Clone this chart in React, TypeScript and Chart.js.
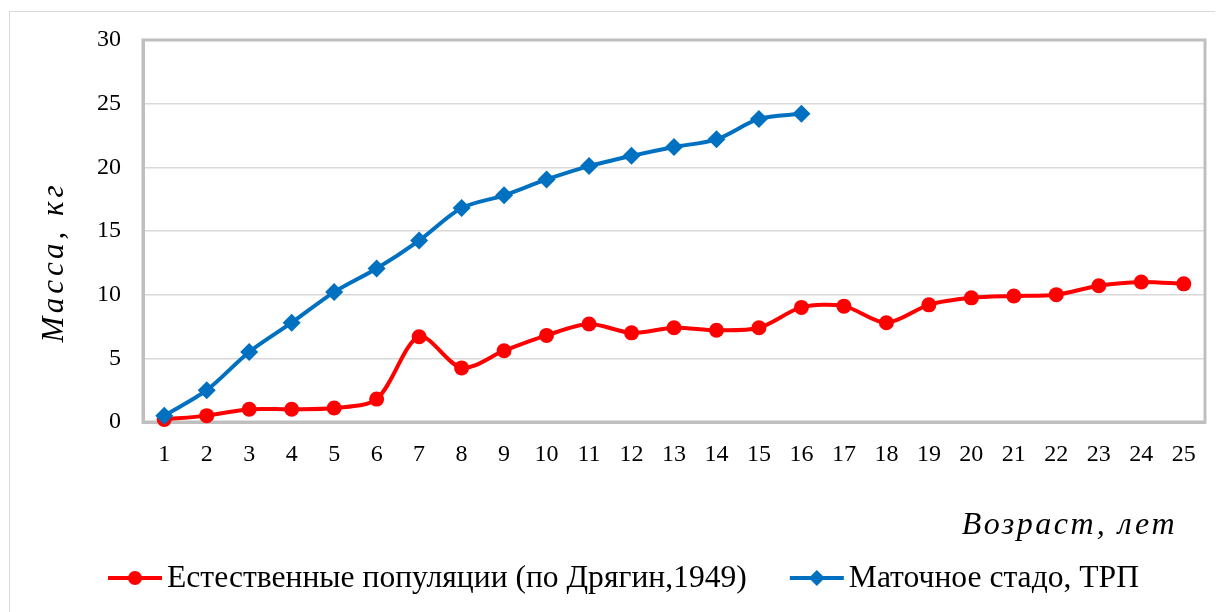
import React, { useEffect, useRef } from "react";
import { Chart, registerables } from "chart.js";

Chart.register(...registerables);

const ages = ["1","2","3","4","5","6","7","8","9","10","11","12","13","14","15","16","17","18","19","20","21","22","23","24","25"];
const naturalPop = [0.2, 0.5, 1.0, 1.0, 1.1, 1.8, 6.7, 4.25, 5.6, 6.8, 7.7, 7.0, 7.4, 7.2, 7.4, 9.0, 9.1, 7.8, 9.2, 9.75, 9.9, 10.0, 10.7, 11.0, 10.85];
const broodstock = [0.5, 2.5, 5.5, 7.8, 10.2, 12.05, 14.25, 16.8, 17.8, 19.05, 20.1, 20.9, 21.6, 22.2, 23.8, 24.2];
const yTicks = [0, 5, 10, 15, 20, 25, 30];

const seriesNames = ["Естественные популяции (по Дрягин,1949)", "Маточное стадо, ТРП"];
const yTitle = "Масса, кг";
const xTitle = "Возраст, лет";

const RED = "#ff0000";
const BLUE = "#0070c0";
const FONT = "'Liberation Serif', 'Times New Roman', serif";

const decorPlugin = {
  id: "decor",
  beforeDatasetsDraw(chart: any) {
    const { ctx, chartArea } = chart;
    ctx.save();
    ctx.strokeStyle = "#bfbfbf";
    ctx.lineWidth = 3;
    ctx.strokeRect(chartArea.left, chartArea.top, chartArea.right - chartArea.left, chartArea.bottom - chartArea.top);
    ctx.restore();
  },
  afterDraw(chart: any) {
    const { ctx, chartArea } = chart;
    ctx.save();
    ctx.fillStyle = "#000";
    // y title
    ctx.font = `italic 31px ${FONT}`;
    (ctx as any).letterSpacing = "4px";
    ctx.translate(chartArea.left - 80, (chartArea.top + chartArea.bottom) / 2 + 31);
    ctx.rotate(-Math.PI / 2);
    ctx.textAlign = "center";
    ctx.textBaseline = "alphabetic";
    ctx.fillText(yTitle, 0, 0);
    ctx.restore();

    ctx.save();
    ctx.fillStyle = "#000";
    ctx.font = `italic 32px ${FONT}`;
    (ctx as any).letterSpacing = "2.5px";
    ctx.textAlign = "right";
    ctx.textBaseline = "alphabetic";
    ctx.fillText(xTitle, chartArea.right - 28, chartArea.bottom + 112);
    ctx.restore();

    // legend
    ctx.save();
    ctx.font = `31.6px ${FONT}`;
    const lineLen = 54;
    const gapText = 5;
    const gapItem = 43;
    const widths = seriesNames.map((n) => ctx.measureText(n).width);
    const total = widths.reduce((a, w) => a + lineLen + gapText + w, 0) + gapItem * (seriesNames.length - 1);
    let x = chart.width / 2 + 8 - total / 2;
    const y = chartArea.bottom + 156;
    const colors = [RED, BLUE];
    seriesNames.forEach((name, i) => {
      ctx.strokeStyle = colors[i];
      ctx.fillStyle = colors[i];
      ctx.lineWidth = 4;
      ctx.beginPath();
      ctx.moveTo(x, y);
      ctx.lineTo(x + lineLen, y);
      ctx.stroke();
      const cx = x + lineLen / 2;
      ctx.beginPath();
      if (i === 0) {
        ctx.arc(cx, y, 7, 0, Math.PI * 2);
      } else {
        ctx.moveTo(cx, y - 8);
        ctx.lineTo(cx + 8, y);
        ctx.lineTo(cx, y + 8);
        ctx.lineTo(cx - 8, y);
        ctx.closePath();
      }
      ctx.fill();
      ctx.fillStyle = "#000";
      ctx.textAlign = "left";
      ctx.textBaseline = "middle";
      ctx.fillText(name, x + lineLen + gapText, y + 1);
      x += lineLen + gapText + widths[i] + gapItem;
    });
    ctx.restore();
  },
};

export default function App() {
  const ref = useRef<HTMLCanvasElement | null>(null);
  useEffect(() => {
    if (!ref.current) return;
    const chart = new Chart(ref.current, {
      type: "line",
      data: {
        labels: ages,
        datasets: [
          {
            label: seriesNames[0],
            data: naturalPop,
            borderColor: RED,
            backgroundColor: RED,
            borderWidth: 4,
            pointStyle: "circle",
            pointRadius: 7.5,
            pointBorderWidth: 0,
            tension: 0.3,
            clip: false as any,
            order: 1,
          },
          {
            label: seriesNames[1],
            data: broodstock,
            borderColor: BLUE,
            backgroundColor: BLUE,
            borderWidth: 4,
            pointStyle: "rectRot",
            pointRadius: 9,
            pointBorderWidth: 0,
            tension: 0.3,
            clip: false as any,
            order: 0,
          },
        ],
      },
      options: {
        animation: false,
        responsive: false,
        maintainAspectRatio: false,
        layout: { padding: { top: 32, right: 18, bottom: 60, left: 0 } },
        plugins: { legend: { display: false }, tooltip: { enabled: false } },
        scales: {
          x: {
            type: "category",
            offset: true,
            grid: { display: false },
            border: { color: "#bfbfbf", width: 3 },
            ticks: { color: "#000", font: { family: FONT, size: 24 }, padding: 10, maxRotation: 0, autoSkip: false },
            afterFit: (s: any) => { s.height = 130; },
          },
          y: {
            min: 0,
            max: 30,
            afterBuildTicks: (s: any) => { s.ticks = yTicks.map((v) => ({ value: v })); },
            grid: { color: "#d9d9d9", lineWidth: 1.5, drawTicks: false },
            border: { color: "#bfbfbf", width: 3 },
            ticks: { color: "#000", font: { family: FONT, size: 24 }, padding: 22 },
            afterFit: (s: any) => { s.width = 135; s.paddingTop = 0; s.paddingBottom = 0; },
          },
        },
      },
      plugins: [decorPlugin],
    });
    return () => chart.destroy();
  }, []);
  return (
    <div style={{ position: "relative", width: 1215, height: 604, overflow: "hidden" }}>
      <div style={{ position: "absolute", left: 1, top: 3, width: 1400, height: 800, border: "1px solid #d9d9d9", boxSizing: "border-box" }} />
      <canvas ref={ref} width={1215} height={604} style={{ position: "absolute", left: 0, top: 0, width: 1215, height: 604 }} />
    </div>
  );
}
